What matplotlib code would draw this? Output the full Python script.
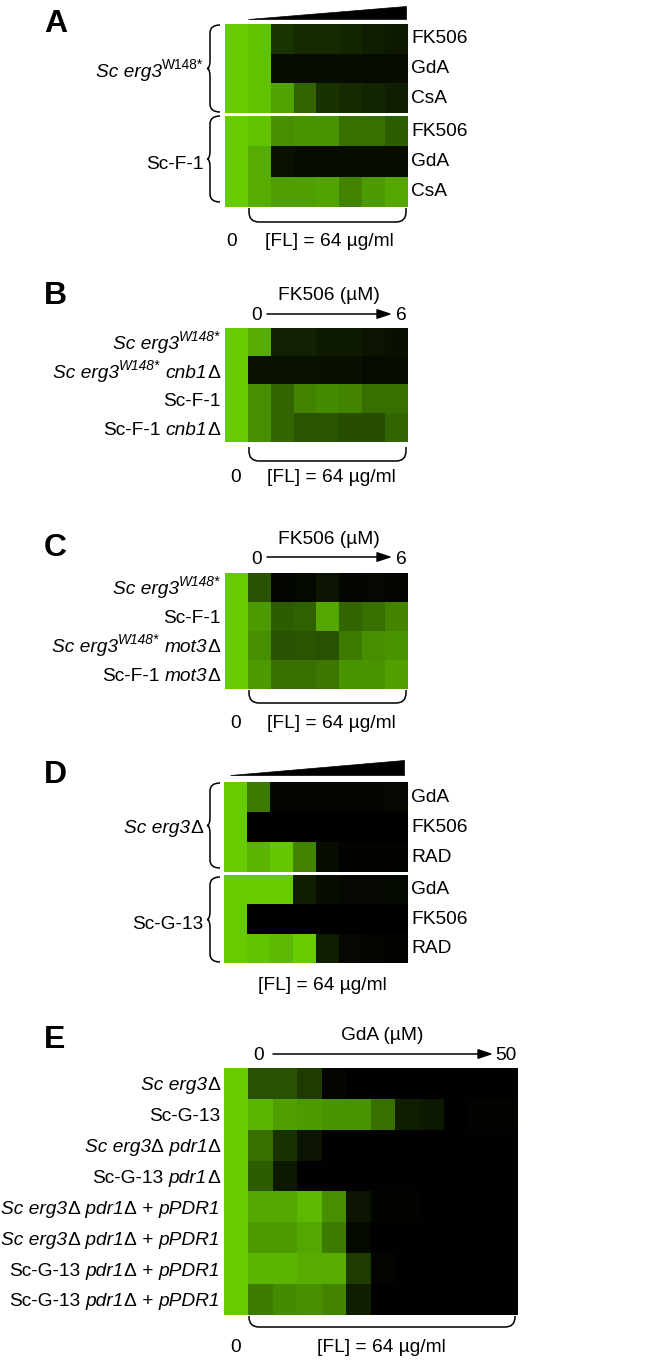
import numpy as np
import matplotlib
matplotlib.use("Agg")
import matplotlib.pyplot as plt
from matplotlib.colors import LinearSegmentedColormap
from matplotlib.path import Path
from matplotlib.patches import PathPatch, Polygon

plt.rcParams['font.family'] = ['Liberation Sans', 'DejaVu Sans']

# ---------------- data (relative growth, 0 = none, 1 = full) ----------------
# label pieces: (text, style)  style: 'n' normal, 'i' italic, 'sn'/'si' superscript
A_drugs = ["FK506", "GdA", "CsA"]
A_strains = [[("Sc erg3", "i"), ("W148*", "sn")],
             [("Sc-F-1", "n")]]
A_erg3 = [[1.00, 0.95, 0.26, 0.21, 0.21, 0.19, 0.15, 0.13],
          [1.00, 0.95, 0.07, 0.07, 0.07, 0.06, 0.06, 0.07],
          [1.00, 0.95, 0.80, 0.50, 0.25, 0.21, 0.18, 0.15]]
A_scf1 = [[1.00, 0.95, 0.70, 0.72, 0.72, 0.55, 0.55, 0.45],
          [1.00, 0.85, 0.09, 0.06, 0.06, 0.06, 0.06, 0.07],
          [1.00, 0.85, 0.78, 0.78, 0.80, 0.65, 0.75, 0.82]]

B_strains = [[("Sc erg3", "i"), ("W148*", "si")],
             [("Sc erg3", "i"), ("W148*", "si"), (" ", "n"), ("cnb1Δ", "i")],
             [("Sc-F-1", "n")],
             [("Sc-F-1", "n"), (" ", "n"), ("cnb1Δ", "i")]]
B_vals = [[1.00, 0.85, 0.16, 0.16, 0.13, 0.13, 0.10, 0.08],
          [1.00, 0.09, 0.09, 0.09, 0.08, 0.08, 0.06, 0.06],
          [1.00, 0.70, 0.50, 0.65, 0.68, 0.65, 0.55, 0.55],
          [1.00, 0.70, 0.50, 0.42, 0.42, 0.38, 0.38, 0.50]]

C_strains = [[("Sc erg3", "i"), ("W148*", "si")],
             [("Sc-F-1", "n")],
             [("Sc erg3", "i"), ("W148*", "si"), (" ", "n"), ("mot3Δ", "i")],
             [("Sc-F-1", "n"), (" ", "n"), ("mot3Δ", "i")]]
C_vals = [[1.00, 0.40, 0.03, 0.05, 0.10, 0.03, 0.04, 0.03],
          [1.00, 0.75, 0.45, 0.48, 0.82, 0.50, 0.55, 0.65],
          [1.00, 0.70, 0.40, 0.42, 0.40, 0.60, 0.70, 0.72],
          [1.00, 0.75, 0.55, 0.55, 0.58, 0.72, 0.72, 0.78]]

D_drugs = ["GdA", "FK506", "RAD"]
D_strains = [[("Sc erg3Δ", "i")],
             [("Sc-G-13", "n")]]
D_erg3 = [[1.00, 0.60, 0.03, 0.03, 0.03, 0.03, 0.03, 0.04],
          [1.00, 0.00, 0.00, 0.00, 0.00, 0.00, 0.00, 0.00],
          [1.00, 0.88, 0.98, 0.65, 0.06, 0.02, 0.02, 0.02]]
D_scg13 = [[1.00, 1.00, 1.00, 0.15, 0.06, 0.04, 0.04, 0.05],
           [1.00, 0.00, 0.00, 0.00, 0.00, 0.00, 0.00, 0.00],
           [1.00, 0.95, 0.90, 1.00, 0.15, 0.04, 0.03, 0.02]]

E_strains = [[("Sc erg3Δ", "i")],
             [("Sc-G-13", "n")],
             [("Sc erg3Δ pdr1Δ", "i")],
             [("Sc-G-13", "n"), (" ", "n"), ("pdr1Δ", "i")],
             [("Sc erg3Δ pdr1Δ", "i"), (" + ", "n"), ("pPDR1", "i")],
             [("Sc erg3Δ pdr1Δ", "i"), (" + ", "n"), ("pPDR1", "i")],
             [("Sc-G-13", "n"), (" ", "n"), ("pdr1Δ", "i"), (" + ", "n"), ("pPDR1", "i")],
             [("Sc-G-13", "n"), (" ", "n"), ("pdr1Δ", "i"), (" + ", "n"), ("pPDR1", "i")]]
E_vals = [[1.00, 0.40, 0.40, 0.30, 0.03, 0.01, 0.01, 0.01, 0.01, 0.01, 0.01, 0.01],
          [1.00, 0.88, 0.78, 0.75, 0.72, 0.72, 0.55, 0.15, 0.12, 0.01, 0.02, 0.02],
          [1.00, 0.55, 0.25, 0.10, 0.01, 0.01, 0.01, 0.01, 0.01, 0.01, 0.01, 0.01],
          [1.00, 0.45, 0.12, 0.01, 0.01, 0.01, 0.01, 0.01, 0.01, 0.01, 0.01, 0.01],
          [1.00, 0.82, 0.82, 0.90, 0.70, 0.10, 0.02, 0.02, 0.01, 0.01, 0.01, 0.01],
          [1.00, 0.75, 0.75, 0.82, 0.60, 0.05, 0.01, 0.01, 0.01, 0.01, 0.01, 0.01],
          [1.00, 0.88, 0.88, 0.85, 0.85, 0.30, 0.03, 0.01, 0.01, 0.01, 0.01, 0.01],
          [1.00, 0.60, 0.68, 0.70, 0.65, 0.15, 0.01, 0.01, 0.01, 0.01, 0.01, 0.01]]

FL_label = "[FL] = 64 µg/ml"

# ---------------- layout helpers ----------------
W, H = 655, 1364
fig = plt.figure(figsize=(W / 100, H / 100), dpi=100)
ov = fig.add_axes([0, 0, 1, 1])
ov.set_xlim(0, W)
ov.set_ylim(H, 0)
ov.axis('off')
R = fig.canvas.get_renderer()

cmap = LinearSegmentedColormap.from_list('grow', ['#000000', '#66CC00'])

FS = 13.8
PX = 100 / 72.0


def heat(vals, x0, y0, x1, y1):
    ax = fig.add_axes([x0 / W, 1 - y1 / H, (x1 - x0) / W, (y1 - y0) / H])
    ax.imshow(np.array(vals), cmap=cmap, vmin=0, vmax=1, aspect='auto',
              interpolation='nearest')
    ax.axis('off')
    return ax


def piece_width(s, style, size):
    fst = 'italic' if 'i' in style else 'normal'
    t = ov.text(0, 0, "|" + s + "|", fontsize=size, fontstyle=fst)
    w = t.get_window_extent(renderer=R).width
    t.remove()
    t = ov.text(0, 0, "||", fontsize=size, fontstyle=fst)
    w0 = t.get_window_extent(renderer=R).width
    t.remove()
    return w - w0


def split_delta(pieces):
    out = []
    for s, st in pieces:
        if 'i' in st and 'Δ' in s:
            parts = s.split('Δ')
            for k, p in enumerate(parts):
                if p:
                    out.append((p, st))
                if k < len(parts) - 1:
                    out.append(('Δ', st.replace('i', 'n')))
        else:
            out.append((s, st))
    return out


def rich(x, yc, pieces, ha='right', fs=FS):
    pieces = split_delta(pieces)
    sizes = [fs * 0.72 if p[1].startswith('s') else fs for p in pieces]
    widths = [piece_width(p[0], p[1], sz) for p, sz in zip(pieces, sizes)]
    total = sum(widths)
    cx = x - total if ha == 'right' else x
    base = yc + 0.36 * fs * PX
    for (s, st), sz, w in zip(pieces, sizes, widths):
        y = base - (0.42 * fs * PX if st.startswith('s') else 0)
        if s.strip():
            ov.text(cx, y, s, fontsize=sz, ha='left', va='baseline',
                    fontstyle='italic' if 'i' in st else 'normal')
        cx += w


def brace_left(xr, y0, y1, xl=None, d=3, r=8):
    xl = xr - 10 if xl is None else xl
    ym = (y0 + y1) / 2
    verts = [(xr, y0), (xl, y0), (xl, y0 + r), (xl, ym - r), (xl, ym), (xl - d, ym),
             (xl, ym), (xl, ym + r), (xl, y1 - r), (xl, y1), (xr, y1)]
    codes = [Path.MOVETO, Path.CURVE3, Path.CURVE3, Path.LINETO, Path.CURVE3, Path.CURVE3,
             Path.CURVE3, Path.CURVE3, Path.LINETO, Path.CURVE3, Path.CURVE3]
    ov.add_patch(PathPatch(Path(verts, codes), fill=False, lw=1.1, color='black'))


def brace_bottom(x0, x1, y0, y1, r=10):
    verts = [(x0, y0), (x0, y1 - r), (x0, y1), (x0 + r, y1), (x1 - r, y1),
             (x1, y1), (x1, y1 - r), (x1, y0)]
    codes = [Path.MOVETO, Path.LINETO, Path.CURVE3, Path.CURVE3, Path.LINETO,
             Path.CURVE3, Path.CURVE3, Path.LINETO]
    ov.add_patch(PathPatch(Path(verts, codes), fill=False, lw=1.1, color='black'))


def wedge(x0, x1, yb, yt):
    ov.add_patch(Polygon([(x0, yb), (x1, yb), (x1, yt)], closed=True,
                         color='black', lw=0.5))


def arrow(x0, x1, y):
    ov.annotate('', xy=(x1, y), xytext=(x0, y),
                arrowprops=dict(arrowstyle='-|>,head_length=0.9,head_width=0.3',
                                color='black', lw=1.1, shrinkA=0, shrinkB=0))


def letter(s, x, y):
    ov.text(x, y, s, fontsize=23, fontweight='bold', ha='left', va='center')


def row_labels_right(labels, x, y0, y1):
    n = len(labels)
    h = (y1 - y0) / n
    for i, s in enumerate(labels):
        ov.text(x, y0 + h * (i + 0.5), s, fontsize=FS, ha='left', va='center')


def row_labels_left(labels, x, y0, y1):
    n = len(labels)
    h = (y1 - y0) / n
    for i, pcs in enumerate(labels):
        rich(x, y0 + h * (i + 0.5), pcs)


def txt(x, y, s, ha='center'):
    ov.text(x, y, s, fontsize=FS, ha=ha, va='center')


# ---------------- Panel A ----------------
letter("A", 44, 24)
wedge(248, 406, 19, 6)
heat(A_erg3, 225, 24, 408, 113)
heat(A_scf1, 225, 116, 408, 207)
row_labels_right(A_drugs, 411, 24, 113)
row_labels_right(A_drugs, 411, 116, 207)
brace_left(220, 25, 112)
brace_left(220, 116, 202)
rich(203, 70, A_strains[0])
rich(203, 162, A_strains[1])
brace_bottom(249, 406, 208, 222)
txt(232, 241, "0")
txt(329, 241, FL_label)

# ---------------- Panel B ----------------
letter("B", 44, 296)
txt(329, 295, "FK506 (µM)")
txt(257, 316, "0")
arrow(267, 392, 314)
txt(396, 316, "6", ha='left')
heat(B_vals, 225, 328, 408, 442)
row_labels_left(B_strains, 220, 328, 442)
brace_bottom(249, 406, 447, 461)
txt(236, 477, "0")
txt(331, 477, FL_label)

# ---------------- Panel C ----------------
letter("C", 44, 548)
txt(329, 539, "FK506 (µM)")
txt(257, 559, "0")
arrow(267, 392, 557)
txt(396, 559, "6", ha='left')
heat(C_vals, 225, 573, 408, 689)
row_labels_left(C_strains, 220, 573, 689)
brace_bottom(249, 406, 690, 703)
txt(236, 723, "0")
txt(331, 723, FL_label)

# ---------------- Panel D ----------------
letter("D", 44, 775)
wedge(230, 404, 775, 760)
heat(D_erg3, 224, 782, 408, 872)
heat(D_scg13, 224, 875, 408, 963)
row_labels_right(D_drugs, 411, 782, 872)
row_labels_right(D_drugs, 411, 875, 963)
brace_left(220, 783, 868)
brace_left(220, 877, 962)
rich(203, 826, D_strains[0])
rich(203, 922, D_strains[1])
txt(322, 985, FL_label)

# ---------------- Panel E ----------------
letter("E", 44, 1040)
txt(382, 1036, "GdA (µM)")
txt(259, 1056, "0")
arrow(273, 493, 1054)
txt(495, 1056, "50", ha='left')
heat(E_vals, 224, 1068, 518, 1315)
row_labels_left(E_strains, 220, 1068, 1315)
brace_bottom(249, 515, 1316, 1327)
txt(236, 1347, "0")
txt(381, 1347, FL_label)

fig.savefig("out.png", dpi=100, facecolor='white')
